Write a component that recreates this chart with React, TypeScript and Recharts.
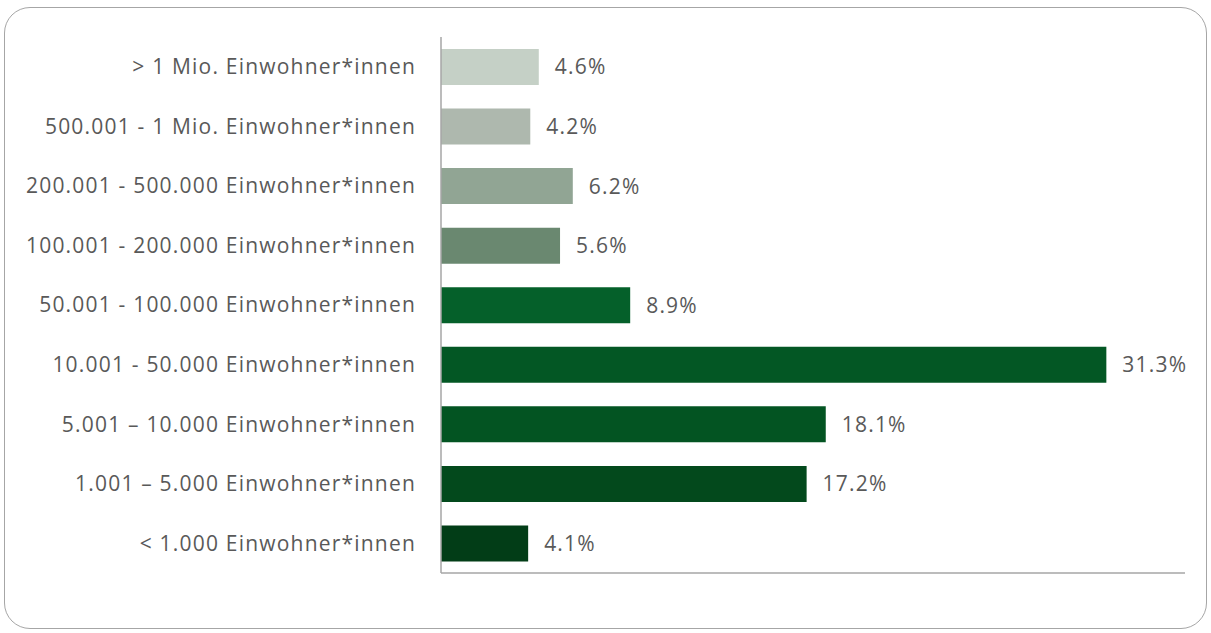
import React from "react";
import { BarChart, Bar, XAxis, YAxis, Cell, LabelList } from "recharts";

const categories = [
  "> 1 Mio. Einwohner*innen",
  "500.001 - 1 Mio. Einwohner*innen",
  "200.001 - 500.000 Einwohner*innen",
  "100.001 - 200.000 Einwohner*innen",
  "50.001 - 100.000 Einwohner*innen",
  "10.001 - 50.000 Einwohner*innen",
  "5.001 \u2013 10.000 Einwohner*innen",
  "1.001 \u2013 5.000 Einwohner*innen",
  "< 1.000 Einwohner*innen",
];
const values = [4.6, 4.2, 6.2, 5.6, 8.9, 31.3, 18.1, 17.2, 4.1];
const colors = [
  "#C5D0C6",
  "#AEB8AE",
  "#91A594",
  "#6A8870",
  "#05602A",
  "#035724",
  "#035422",
  "#03491C",
  "#023D17",
];

const data = categories.map((c, i) => ({ name: c, value: values[i] }));
const FONT = "'Open Sans', 'Noto Sans', sans-serif";

export default function App() {
  return (
    <div style={{ position: "absolute", left: 0, top: 0, width: 1211, height: 633, background: "#fff" }}>
      <div
        style={{
          position: "absolute",
          left: 4,
          top: 7,
          width: 1203,
          height: 622,
          border: "1.5px solid #A6A6A6",
          borderRadius: 26,
          boxSizing: "border-box",
        }}
      />
      <div style={{ position: "absolute", left: 0, top: 0 }}>
        <BarChart
          width={1211}
          height={633}
          data={data}
          layout="vertical"
          margin={{ top: 37, right: 26, bottom: 59, left: 0 }}
        >
          <XAxis
            type="number"
            domain={[0, 35]}
            ticks={[0, 35]}
            tick={false}
            tickLine={false}
            axisLine={{ stroke: "#A6A6A6", strokeWidth: 1.5 }}
            height={1}
          />
          <YAxis
            type="category"
            dataKey="name"
            width={441}
            tickLine={false}
            axisLine={{ stroke: "#A6A6A6", strokeWidth: 1.5 }}
            tickMargin={19}
            interval={0}
            tick={{ fill: "#595959", fontSize: 21, fontFamily: FONT, style: { letterSpacing: "1.2px" } }}
          />
          <Bar dataKey="value" barSize={36} isAnimationActive={false}>
            {data.map((d, i) => (
              <Cell key={d.name} fill={colors[i]} />
            ))}
            <LabelList
              dataKey="value"
              position="right"
              offset={16}
              formatter={(v: number) => v.toFixed(1) + "%"}
              style={{ fill: "#595959", fontSize: 21, fontFamily: FONT, letterSpacing: "1.2px" }}
            />
          </Bar>
        </BarChart>
      </div>
    </div>
  );
}
